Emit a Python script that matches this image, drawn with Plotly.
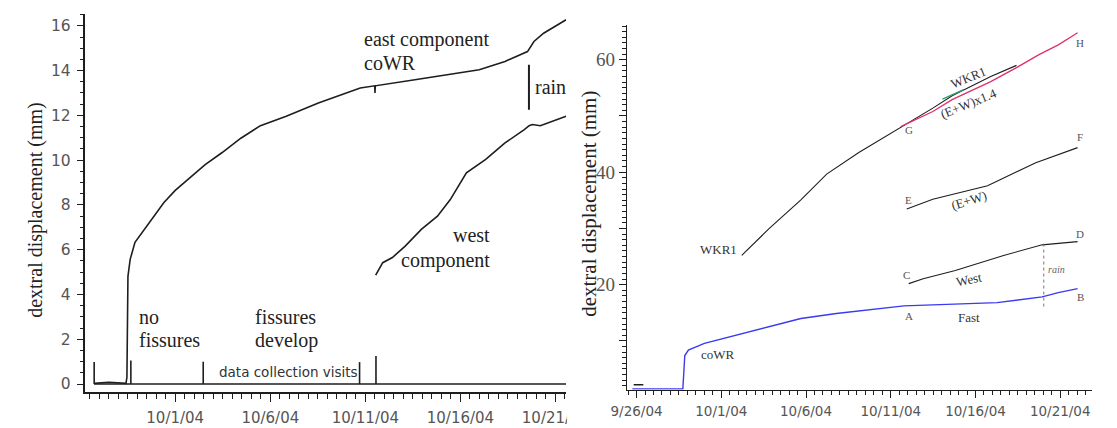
import plotly.graph_objects as go

W, H = 1117, 428


def px(x):
    return x / W


def py(y):
    return 1 - y / H


# ---------------- Left panel data ----------------
east_t = ["2004-09-26 17:40", "2004-09-27 12:00", "2004-09-28 09:50", "2004-09-28 11:00",
          "2004-09-28 12:18", "2004-09-28 15:06", "2004-09-28 21:12", "2004-09-29 09:23",
          "2004-09-29 21:33", "2004-09-30 09:45", "2004-10-01 00:00", "2004-10-01 18:16",
          "2004-10-02 13:46", "2004-10-03 10:50", "2004-10-04 10:50", "2004-10-05 11:34",
          "2004-10-06 20:07", "2004-10-08 12:40", "2004-10-10 17:32",
          "2004-10-11 11:48", "2004-10-11 12:10", "2004-10-11 12:30", "2004-10-13 14:30",
          "2004-10-15 07:11", "2004-10-16 23:46", "2004-10-18 08:17", "2004-10-19 12:40",
          "2004-10-19 20:50", "2004-10-20 09:01", "2004-10-21 13:24"]
east_v = [0.03, 0.08, 0.03, 0.3, 4.81, 5.57, 6.33, 6.91, 7.49, 8.11, 8.65, 9.21,
          9.8, 10.33, 10.98, 11.54, 11.96, 12.55, 13.22, 13.32, 13.0, 13.32, 13.59,
          13.81, 14.04, 14.41, 14.85, 15.3, 15.67, 16.27]

west_t = ["2004-10-11 13:02", "2004-10-11 21:56", "2004-10-12 10:06", "2004-10-13 02:18",
          "2004-10-13 22:39", "2004-10-14 19:00", "2004-10-15 11:13", "2004-10-16 07:33",
          "2004-10-17 07:55", "2004-10-18 08:17", "2004-10-19 08:38", "2004-10-19 14:44",
          "2004-10-19 18:46", "2004-10-20 04:52", "2004-10-21 13:24"]
west_v = [4.86, 5.42, 5.65, 6.16, 6.91, 7.5, 8.24, 9.43, 10.03, 10.77, 11.36, 11.54,
          11.59, 11.54, 11.96]

visit_t = ["2004-09-26 17:40", "2004-09-28 15:58", "2004-10-02 11:19",
           "2004-10-10 16:41", "2004-10-11 13:24"]
visit_h = [0.98, 1.05, 1.0, 0.98, 1.25]
baseline_t = ["2004-09-26 17:40", "2004-10-21 13:24"]
baseline_v = [0, 0]

rain_left_t = "2004-10-19 14:30"
rain_left_v = [12.25, 14.26]

left_tickvals = ["2004-10-01", "2004-10-06", "2004-10-11", "2004-10-16", "2004-10-21"]
left_ticktext = ["10/1/04", "10/6/04", "10/11/04", "10/16/04", "10/21/04"]

# ---------------- Right panel data ----------------
cowr_t = ["2004-09-25 18:00", "2004-09-28 17:36", "2004-09-28 20:19", "2004-09-29 01:24",
          "2004-09-30 00:04", "2004-10-01 21:43", "2004-10-03 19:15", "2004-10-05 16:45",
          "2004-10-07 18:55", "2004-10-11 18:35", "2004-10-17 06:45", "2004-10-19 22:26",
          "2004-10-20 21:16", "2004-10-22 00:36"]
cowr_v = [1.47, 1.47, 7.4, 8.37, 9.56, 11.03, 12.51, 13.98, 14.87, 16.23, 16.81, 17.82,
          18.58, 19.29]

dash_t = ["2004-09-25 19:55", "2004-09-26 09:34"]
dash_v = [2.2, 2.2]

wkr_t = ["2004-10-02 04:58", "2004-10-03 19:15", "2004-10-05 16:21", "2004-10-07 05:15",
         "2004-10-09 02:46", "2004-10-11 14:05", "2004-10-13 11:35", "2004-10-14 14:56",
         "2004-10-16 21:36", "2004-10-18 10:05"]
wkr_v = [25.19, 29.91, 35.04, 39.65, 43.5, 47.96, 51.4, 53.6, 57.0, 59.0]

green_t = ["2004-10-14 01:15", "2004-10-15 07:19"]
green_v = [53.0, 54.7]

ew14_t = ["2004-10-11 14:05", "2004-10-13 11:35", "2004-10-14 14:56", "2004-10-16 21:36",
          "2004-10-18 10:05", "2004-10-19 17:56", "2004-10-20 21:16", "2004-10-22 00:36"]
ew14_v = [48.1, 50.8, 52.9, 56.1, 58.6, 60.9, 62.65, 64.8]

ew_t = ["2004-10-11 22:41", "2004-10-13 11:35", "2004-10-16 17:05", "2004-10-19 13:25",
        "2004-10-22 00:36"]
ew_v = [33.45, 35.2, 37.58, 41.7, 44.37]

westr_t = ["2004-10-12 01:25", "2004-10-12 21:55", "2004-10-14 19:26", "2004-10-17 15:46",
           "2004-10-19 22:26", "2004-10-22 00:36"]
westr_v = [20.18, 21.06, 22.53, 25.19, 27.08, 27.66]

rain_right_t = "2004-10-20 00:43"
rain_right_v = [16.1, 27.8]

right_tickvals = ["2004-09-26", "2004-10-01", "2004-10-06", "2004-10-11", "2004-10-16",
                  "2004-10-21"]
right_ticktext = ["9/26/04", "10/1/04", "10/6/04", "10/11/04", "10/16/04", "10/21/04"]
right_ytickvals = [10, 20, 30, 40, 50, 60]
right_yticktext = ["", "20", "", "40", "", "60"]

INK = "#1e1e1e"
BLUE = "#3a3af0"
RED = "#e0306b"
GREEN = "#2e9e6e"
SERIF = "Liberation Serif"
SANS = "DejaVu Sans"

fig = go.Figure()


def line(x, y, color=INK, width=1.5, xa="x", ya="y", dash=None):
    fig.add_trace(go.Scatter(x=x, y=y, mode="lines", xaxis=xa, yaxis=ya,
                             line=dict(color=color, width=width, dash=dash),
                             hoverinfo="skip", showlegend=False))


# Left panel traces
line(baseline_t, baseline_v, width=1.4)
vx, vy = [], []
for t, h in zip(visit_t, visit_h):
    vx += [t, t, None]
    vy += [0, h, None]
line(vx, vy, width=1.6)
line(east_t, east_v, width=1.6)
line(west_t, west_v, width=1.6)
line([rain_left_t, rain_left_t], rain_left_v, width=2)

# Right panel traces
line(dash_t, dash_v, width=1.4, xa="x2", ya="y2")
line(cowr_t, cowr_v, color=BLUE, width=1.4, xa="x2", ya="y2")
line(wkr_t, wkr_v, width=1.1, xa="x2", ya="y2")
line(ew14_t, ew14_v, color=RED, width=1.3, xa="x2", ya="y2")
line(green_t, green_v, color=GREEN, width=1.3, xa="x2", ya="y2")
line(ew_t, ew_v, width=1.1, xa="x2", ya="y2")
line(westr_t, westr_v, width=1.1, xa="x2", ya="y2")
line([rain_right_t, rain_right_t], rain_right_v, color="#777", width=1, xa="x2", ya="y2",
     dash="dot")

axis_common = dict(showgrid=False, zeroline=False, showline=True, linecolor=INK,
                   ticks="outside", tickcolor=INK, fixedrange=True)

fig.update_layout(
    width=W, height=H, margin=dict(l=0, r=0, t=0, b=0), autosize=False,
    paper_bgcolor="white", plot_bgcolor="white", showlegend=False,
    xaxis=dict(axis_common, domain=[px(72), px(570)], type="date", anchor="y",
               range=["2004-09-26 06:42", "2004-10-21 13:24"], linewidth=1.5,
               tickmode="array", tickvals=left_tickvals, ticktext=left_ticktext,
               ticklen=8, tickwidth=1.2, ticklabelstandoff=3,
               tickfont=dict(family=SANS, size=15, color="#555"),
               minor=dict(ticks="outside", dtick=43200000, tick0="2004-09-26",
                          ticklen=5, tickwidth=1, tickcolor=INK)),
    yaxis=dict(axis_common, domain=[py(393), py(14)], anchor="x",
               range=[-0.36, 16.53], linewidth=1.5, tick0=0, dtick=2,
               ticklen=7, tickwidth=1.2, ticklabelstandoff=3,
               tickfont=dict(family=SANS, size=15.5, color="#555"),
               minor=dict(ticks="outside", dtick=0.5, tick0=0, ticklen=4, tickwidth=1,
                          tickcolor=INK)),
    xaxis2=dict(axis_common, domain=[px(633), px(1115)], type="date", anchor="y2",
                range=["2004-09-25 10:20", "2004-10-22 21:06"], linewidth=1.2,
                tickmode="array", tickvals=right_tickvals, ticktext=right_ticktext,
                ticklen=7, tickwidth=1, ticklabelstandoff=2,
                tickfont=dict(family=SANS, size=13.5, color="#555"),
                minor=dict(ticks="outside", dtick=43200000, tick0="2004-09-26",
                           ticklen=4, tickwidth=1, tickcolor=INK)),
    yaxis2=dict(axis_common, domain=[py(390.7), py(25)], anchor="x2",
                range=[1.3, 66.19], linewidth=1.2,
                tickmode="array", tickvals=right_ytickvals, ticktext=right_yticktext,
                ticklen=7, tickwidth=1, ticklabelstandoff=0,
                tickfont=dict(family=SERIF, size=19, color="#555"),
                minor=dict(ticks="outside", dtick=1, tick0=0, ticklen=3.5, tickwidth=1,
                           tickcolor=INK)),
)

ann = []


def text(s, x, y, size=20, family=SERIF, color="#222", xanchor="left", angle=0, italic=False):
    ann.append(dict(text=s, x=px(x), y=py(y), xref="paper", yref="paper", showarrow=False,
                    xanchor=xanchor, yanchor="middle", textangle=angle,
                    font=dict(family=family, size=size, color=color,
                              style="italic" if italic else "normal")))


# Left panel labels
text("dextral displacement (mm)", 20, 211, size=20, xanchor="center", angle=-90)
text("east component", 358, 40)
text("coWR", 358, 63)
text("rain", 536, 87)
text("west", 493, 236, xanchor="right")
text("component", 493, 261, xanchor="right")
text("no", 125, 318)
text("fissures", 125, 341)
text("fissures", 246, 318)
text("develop", 246, 341)
text("data collection visits", 208, 373, size=13.5, family=SANS, color="#333")

# Right panel labels
text("dextral displacement (mm)", 593, 204, size=21, xanchor="center", angle=-90)
small = dict(size=13, color="#333")
text("WKR1", 728, 250, xanchor="center", **small)
text("coWR", 727, 355, xanchor="center", **small)
for s, x, y in [("G", 925, 130), ("H", 1103, 43), ("E", 925, 200), ("F", 1103, 137),
                ("C", 923, 276), ("D", 1103, 235), ("A", 925, 317), ("B", 1103, 298)]:
    text(s, x, y, size=11, color="#555", xanchor="center")
text("WKR1", 987, 78, xanchor="center", angle=-22, **small)
text("(E+W)x1.4", 987, 104, xanchor="center", angle=-22, **small)
text("(E+W)", 987, 201, xanchor="center", angle=-17, **small)
text("West", 987, 280, xanchor="center", angle=-12, **small)
text("Fast", 987, 318, xanchor="center", **small)
text("rain", 1078, 270, size=10, color="#666", xanchor="center", italic=True)

fig.update_layout(annotations=ann)

# clip the last left-panel tick label like the cropped original
fig.add_shape(type="rect", xref="paper", yref="paper", x0=px(571), x1=px(600),
              y0=py(428), y1=py(397), fillcolor="white", line=dict(width=0), layer="above")

fig.write_html("out.html")
